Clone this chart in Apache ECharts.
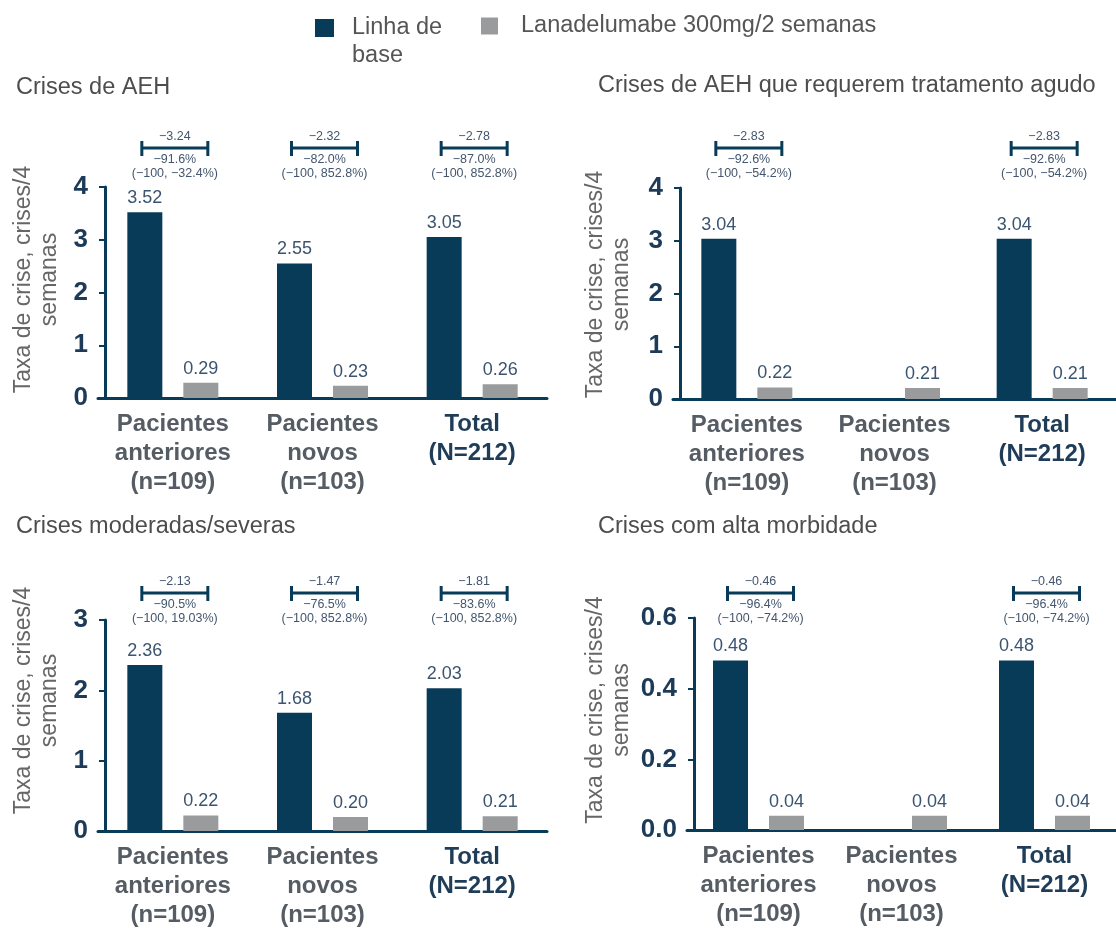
<!DOCTYPE html>
<html>
<head>
<meta charset="utf-8">
<script src="https://cdn.jsdelivr.net/npm/echarts@6/dist/echarts.min.js"></script>
<style>
  html, body { margin: 0; padding: 0; background: #fff; }
  #main { width: 1116px; height: 928px; }
</style>
</head>
<body>
<div id="main"></div>
<script>
// categorias (eixo x)
var categories = ['Pacientes\nanteriores\n(n=109)', 'Pacientes\nnovos\n(n=103)', 'Total\n(N=212)'];
var panelTitles = ['Crises de AEH', 'Crises de AEH que requerem tratamento agudo', 'Crises moderadas/severas', 'Crises com alta morbidade'];
var seriesNames = ['Linha de base', 'Lanadelumabe 300mg/2 semanas'];
var yName = 'Taxa de crise, crises/4\nsemanas';

// Linha de base
var baseline1 = [3.52, 2.55, 3.05];
var baseline2 = [3.04, null, 3.04];
var baseline3 = [2.36, 1.68, 2.03];
var baseline4 = [0.48, null, 0.48];
// Lanadelumabe 300mg/2 semanas
var lanadel1 = [0.29, 0.23, 0.26];
var lanadel2 = [0.22, 0.21, 0.21];
var lanadel3 = [0.22, 0.20, 0.21];
var lanadel4 = [0.04, 0.04, 0.04];

// eixo y: max / intervalo
var yMax = [4, 4, 3, 0.6];
var yInterval = [1, 1, 1, 0.2];

// diferenca / % / IC
var diffs1 = [['\u22123.24', '\u221291.6%', '(\u2212100, \u221232.4%)'], ['\u22122.32', '\u221282.0%', '(\u2212100, 852.8%)'], ['\u22122.78', '\u221287.0%', '(\u2212100, 852.8%)']];
var diffs2 = [['\u22122.83', '\u221292.6%', '(\u2212100, \u221254.2%)'], null, ['\u22122.83', '\u221292.6%', '(\u2212100, \u221254.2%)']];
var diffs3 = [['\u22122.13', '\u221290.5%', '(\u2212100, 19.03%)'], ['\u22121.47', '\u221276.5%', '(\u2212100, 852.8%)'], ['\u22121.81', '\u221283.6%', '(\u2212100, 852.8%)']];
var diffs4 = [['\u22120.46', '\u221296.4%', '(\u2212100, \u221274.2%)'], null, ['\u22120.46', '\u221296.4%', '(\u2212100, \u221274.2%)']];

var baselines = [baseline1, baseline2, baseline3, baseline4];
var lanadels = [lanadel1, lanadel2, lanadel3, lanadel4];
var diffs = [diffs1, diffs2, diffs3, diffs4];

var NAVY = '#073b57';
var GRAY = '#9a9b9d';
var FONT = '"Liberation Sans", Arial, sans-serif';

// posicoes dos paineis
var grids = [
  { left: 98, top: 187, width: 449, height: 211 },
  { left: 673, top: 188, width: 452, height: 211 },
  { left: 98, top: 620, width: 449, height: 211 },
  { left: 687, top: 618, width: 450, height: 212 }
];
var titlePos = [[16, 76], [598, 74], [16, 515], [598, 515]];
var nameGaps = [42, 45, 42, 59];
var nameShift = [26, 18, 50, 28];
var bracketGap = [39, 40, 27, 25];

var chart = echarts.init(document.getElementById('main'));

var option = {
  animation: false,
  textStyle: { fontFamily: FONT },
  title: panelTitles.map(function (t, i) {
    return {
      text: t, left: titlePos[i][0], top: titlePos[i][1], padding: 0,
      textStyle: { fontSize: 23.5, fontWeight: 'normal', color: '#4d4d4d', fontFamily: FONT }
    };
  }),
  legend: [
    {
      left: 315, top: -14, padding: 0, icon: 'rect', itemWidth: 19, itemHeight: 18,
      data: [seriesNames[0]],
      // linha vazia em cima para alinhar "Linha de" com o icone
      formatter: function () { return ' \nLinha de\nbase'; },
      textStyle: { fontSize: 23.5, color: '#555', lineHeight: 28, padding: [0, 0, 0, 13] }
    },
    {
      left: 481, top: 14, padding: 0, icon: 'rect', itemWidth: 17, itemHeight: 17,
      data: [seriesNames[1]],
      textStyle: { fontSize: 23.5, color: '#555', padding: [0, 0, 0, 18] }
    }
  ],
  grid: grids,
  xAxis: grids.map(function (g, i) {
    return {
      type: 'category', gridIndex: i, data: categories,
      axisLine: { lineStyle: { color: NAVY, width: 3 } },
      axisTick: { alignWithLabel: true, length: 6, lineStyle: { color: NAVY, width: 2 } },
      axisLabel: {
        margin: 12, interval: 0,
        formatter: function (v) {
          var tag = v.indexOf('Total') === 0 ? 't' : 'p';
          return v.split('\n').map(function (l) { return '{' + tag + '|' + l + '}'; }).join('\n');
        },
        rich: {
          p: { fontSize: 24, fontWeight: 'bold', color: '#555c63', lineHeight: 29, fontFamily: FONT },
          t: { fontSize: 24, fontWeight: 'bold', color: '#1f3d58', lineHeight: 29, fontFamily: FONT }
        }
      }
    };
  }),
  yAxis: grids.map(function (g, i) {
    return {
      type: 'value', gridIndex: i, min: 0, max: yMax[i], interval: yInterval[i], offset: -7,
      name: yName, nameLocation: 'middle', nameGap: nameGaps[i], nameRotate: 90,
      nameTextStyle: { fontSize: 23, color: '#666', lineHeight: 26, padding: [0, 0, 0, nameShift[i]] },
      axisLine: { show: true, lineStyle: { color: NAVY, width: 3 } },
      axisTick: { show: true, length: 6, lineStyle: { color: NAVY, width: 2 } },
      splitLine: { show: false },
      axisLabel: {
        margin: 17, fontSize: 26, fontWeight: 'bold', color: '#1d3b58',
        formatter: function (v) { return i === 3 ? v.toFixed(1) : String(v); }
      }
    };
  }),
  series: []
};

function valueLabel() {
  return {
    show: true, position: 'top', distance: 5, fontSize: 18, color: '#3b5470',
    formatter: function (p) { return p.value.toFixed(2); }
  };
}

for (var p = 0; p < 4; p++) {
  option.series.push({
    type: 'bar', name: seriesNames[0], xAxisIndex: p, yAxisIndex: p,
    data: baselines[p], barWidth: 35, barGap: '60%',
    itemStyle: { color: NAVY }, label: valueLabel()
  });
  option.series.push({
    type: 'bar', name: seriesNames[1], xAxisIndex: p, yAxisIndex: p,
    data: lanadels[p], barWidth: 35, barGap: '60%',
    itemStyle: { color: GRAY }, label: valueLabel()
  });
  // chaves de diferenca acima das barras
  (function (p) {
    option.series.push({
      type: 'custom', xAxisIndex: p, yAxisIndex: p, clip: false, silent: true,
      data: diffs[p].map(function (d, i) { return d ? [i, 0] : null; }).filter(Boolean),
      encode: { x: 0, y: 1 },
      renderItem: function (params, api) {
        var i = api.value(0);
        var d = diffs[p][i];
        var cx = api.coord([i, 0])[0] + 2;
        var ly = params.coordSys.y - bracketGap[p];
        var ls = { stroke: NAVY, lineWidth: 3 };
        var ts = function (txt, y) {
          return { type: 'text', style: { text: txt, x: cx, y: y, align: 'center', verticalAlign: 'middle', fontSize: 12.5, fontFamily: FONT, fill: '#43566e' } };
        };
        return {
          type: 'group',
          children: [
            { type: 'line', shape: { x1: cx - 33, y1: ly, x2: cx + 33, y2: ly }, style: ls },
            { type: 'line', shape: { x1: cx - 33, y1: ly - 7, x2: cx - 33, y2: ly + 8 }, style: ls },
            { type: 'line', shape: { x1: cx + 33, y1: ly - 7, x2: cx + 33, y2: ly + 8 }, style: ls },
            ts(d[0], ly - 11),
            ts(d[1], ly + 12),
            ts(d[2], ly + 26)
          ]
        };
      }
    });
  })(p);
}

chart.setOption(option);
</script>
</body>
</html>
